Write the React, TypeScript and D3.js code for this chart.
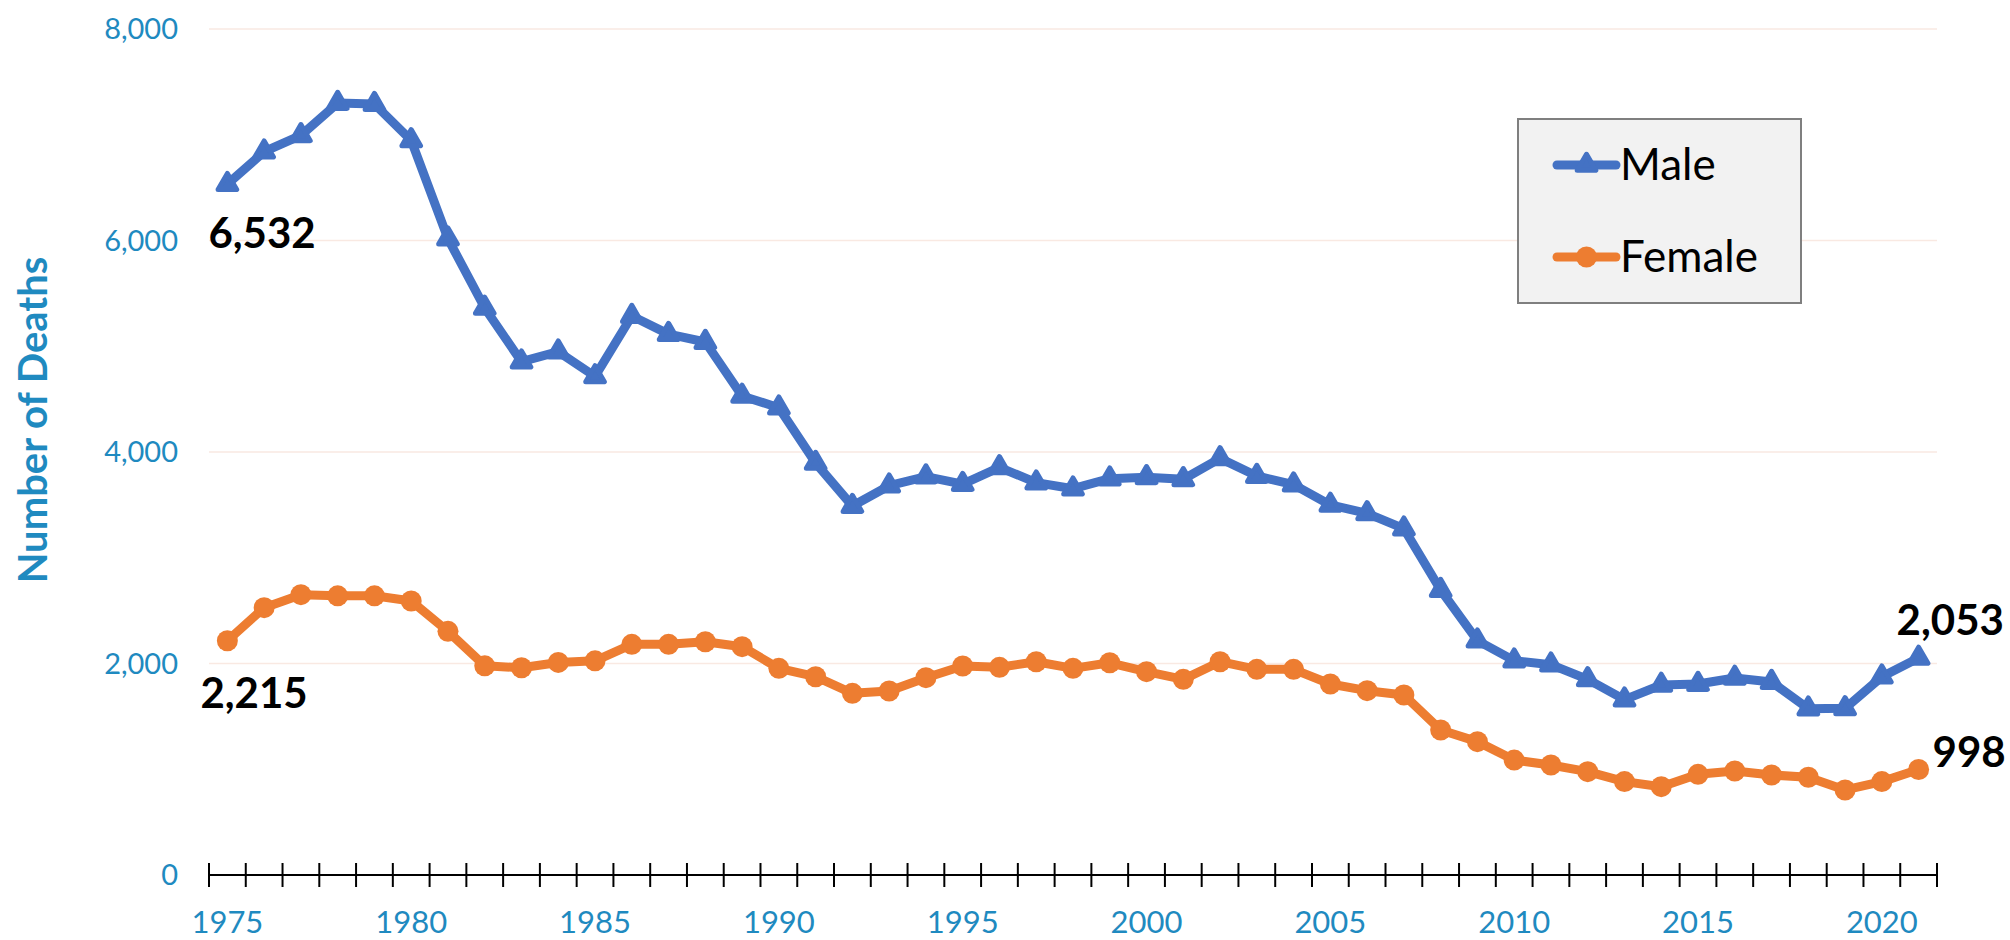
import React, { useRef, useEffect } from "react";
import * as d3 from "d3";

const years = [
  1975, 1976, 1977, 1978, 1979, 1980, 1981, 1982, 1983, 1984,
  1985, 1986, 1987, 1988, 1989, 1990, 1991, 1992, 1993, 1994,
  1995, 1996, 1997, 1998, 1999, 2000, 2001, 2002, 2003, 2004,
  2005, 2006, 2007, 2008, 2009, 2010, 2011, 2012, 2013, 2014,
  2015, 2016, 2017, 2018, 2019, 2020, 2021
];

const male = [
  6532, 6840, 6995, 7300, 7290, 6947, 6017, 5362, 4854, 4949,
  4715, 5286, 5115, 5040, 4530, 4419, 3896, 3489, 3681, 3768,
  3697, 3855, 3710, 3653, 3748, 3761, 3742, 3940, 3773, 3692,
  3499, 3420, 3275, 2695, 2216, 2027, 1989, 1850, 1658, 1797,
  1806, 1863, 1825, 1573, 1576, 1875, 2053
];

const female = [
  2215, 2528, 2651, 2640, 2640, 2591, 2304, 1978, 1960, 2010,
  2025, 2181, 2181, 2206, 2159, 1954, 1875, 1718, 1740, 1866,
  1976, 1964, 2017, 1954, 2007, 1923, 1850, 2017, 1945, 1945,
  1806, 1743, 1702, 1371, 1261, 1087, 1040, 977, 883, 835,
  952, 983, 946, 924, 804, 883, 998
];

const yTicks = [0, 2000, 4000, 6000, 8000];
const xLabelYears = [1975, 1980, 1985, 1990, 1995, 2000, 2005, 2010, 2015, 2020];

const BLUE = "#4472C4";
const ORANGE = "#ED7D31";
const AXIS_TEXT = "#1f8ac0";
const FONT = "Lato, 'Open Sans', sans-serif";

const App = () => {
  const ref = useRef<SVGSVGElement | null>(null);

  useEffect(() => {
    const svg = d3.select(ref.current);
    svg.selectAll("*").remove();

    const width = 2010;
    const height = 940;
    const left = 209;
    const right = 1937;

    const x = d3.scaleBand<number>().domain(years).range([left, right]).padding(0);
    const y = d3.scaleLinear().domain([0, 8000]).range([875, 29]);
    const cx = (yr: number) => (x(yr) as number) + x.bandwidth() / 2;
    const fmt = d3.format(",");

    svg.attr("width", width).attr("height", height);

    // gridlines
    svg
      .append("g")
      .selectAll("line")
      .data(yTicks.filter(d => d > 0))
      .join("line")
      .attr("x1", left)
      .attr("x2", right)
      .attr("y1", d => y(d))
      .attr("y2", d => y(d))
      .attr("stroke", "#f9e9e2")
      .attr("stroke-width", 1.5);

    // y labels
    svg
      .append("g")
      .selectAll("text")
      .data(yTicks)
      .join("text")
      .attr("x", 178)
      .attr("y", d => y(d))
      .attr("dy", "0.36em")
      .attr("text-anchor", "end")
      .attr("font-family", FONT)
      .attr("font-size", 29)
      .attr("fill", AXIS_TEXT)
      .text(d => fmt(d));

    // y title
    svg
      .append("text")
      .attr("transform", "translate(47,420) rotate(-90)")
      .attr("text-anchor", "middle")
      .attr("font-family", FONT)
      .attr("font-weight", "bold")
      .attr("font-size", 40)
      .attr("fill", AXIS_TEXT)
      .text("Number of Deaths");

    // x axis line + ticks between categories
    const ax = svg.append("g");
    ax.append("line")
      .attr("x1", left)
      .attr("x2", right)
      .attr("y1", y(0))
      .attr("y2", y(0))
      .attr("stroke", "#000")
      .attr("stroke-width", 2);
    const bounds = years.map(d => x(d) as number).concat([right]);
    ax.selectAll("line.tick")
      .data(bounds)
      .join("line")
      .attr("class", "tick")
      .attr("x1", d => d)
      .attr("x2", d => d)
      .attr("y1", y(0) - 12)
      .attr("y2", y(0) + 12)
      .attr("stroke", "#000")
      .attr("stroke-width", 2);

    ax.selectAll("text")
      .data(xLabelYears)
      .join("text")
      .attr("x", d => cx(d))
      .attr("y", 933)
      .attr("text-anchor", "middle")
      .attr("font-family", FONT)
      .attr("font-size", 31)
      .attr("fill", AXIS_TEXT)
      .text(d => d);

    const line = d3
      .line<number>()
      .x((d, i) => cx(years[i]))
      .y(d => y(d));

    const series = [
      { name: "Male", values: male, color: BLUE, marker: "triangle" },
      { name: "Female", values: female, color: ORANGE, marker: "circle" }
    ];

    const tri = d3.symbol().type(d3.symbolTriangle).size(150);

    series.forEach(s => {
      const g = svg.append("g");
      g.append("path")
        .attr("d", line(s.values))
        .attr("fill", "none")
        .attr("stroke", s.color)
        .attr("stroke-width", 9)
        .attr("stroke-linejoin", "round")
        .attr("stroke-linecap", "round");

      if (s.marker === "circle") {
        g.selectAll("circle")
          .data(s.values)
          .join("circle")
          .attr("cx", (d, i) => cx(years[i]))
          .attr("cy", d => y(d))
          .attr("r", 10.5)
          .attr("fill", s.color);
      } else {
        g.selectAll("path.m")
          .data(s.values)
          .join("path")
          .attr("class", "m")
          .attr("d", tri)
          .attr("transform", (d, i) => `translate(${cx(years[i])},${y(d)})`)
          .attr("fill", s.color)
          .attr("stroke", s.color)
          .attr("stroke-width", 5)
          .attr("stroke-linejoin", "round");
      }
    });

    // data labels at first and last points
    const first = years[0];
    const last = years[years.length - 1];
    const labels = [
      { v: male[0], px: cx(first), dx: -19, dy: 64 },
      { v: female[0], px: cx(first), dx: -27, dy: 67 },
      { v: male[male.length - 1], px: cx(last), dx: -22, dy: -23 },
      { v: female[female.length - 1], px: cx(last), dx: 14, dy: -2 }
    ];
    svg
      .append("g")
      .selectAll("text")
      .data(labels)
      .join("text")
      .attr("x", d => d.px + d.dx)
      .attr("y", d => y(d.v) + d.dy)
      .attr("font-family", FONT)
      .attr("font-weight", "bold")
      .attr("font-size", 42)
      .attr("fill", "#000")
      .text(d => fmt(d.v));

    // legend
    const lg = svg.append("g");
    lg.append("rect")
      .attr("x", 1518)
      .attr("y", 119)
      .attr("width", 283)
      .attr("height", 184)
      .attr("fill", "#f2f2f2")
      .attr("stroke", "#7f7f7f")
      .attr("stroke-width", 2);
    series.forEach((s, i) => {
      const ly = 165 + i * 92;
      lg.append("line")
        .attr("x1", 1557)
        .attr("x2", 1616)
        .attr("y1", ly)
        .attr("y2", ly)
        .attr("stroke", s.color)
        .attr("stroke-width", 9)
        .attr("stroke-linecap", "round");
      if (s.marker === "circle") {
        lg.append("circle")
          .attr("cx", 1586.5)
          .attr("cy", ly)
          .attr("r", 10.5)
          .attr("fill", s.color);
      } else {
        lg.append("path")
          .attr("d", tri)
          .attr("transform", `translate(1586.5,${ly})`)
          .attr("fill", s.color)
          .attr("stroke", s.color)
          .attr("stroke-width", 5)
          .attr("stroke-linejoin", "round");
      }
      lg.append("text")
        .attr("x", 1620)
        .attr("y", ly + 15)
        .attr("font-family", FONT)
        .attr("font-size", 44)
        .attr("fill", "#000")
        .text(s.name);
    });
  }, []);

  return (
    <svg
      ref={ref}
      style={{ position: "absolute", left: 0, top: 0, background: "#fff" }}
    />
  );
};

export default App;
